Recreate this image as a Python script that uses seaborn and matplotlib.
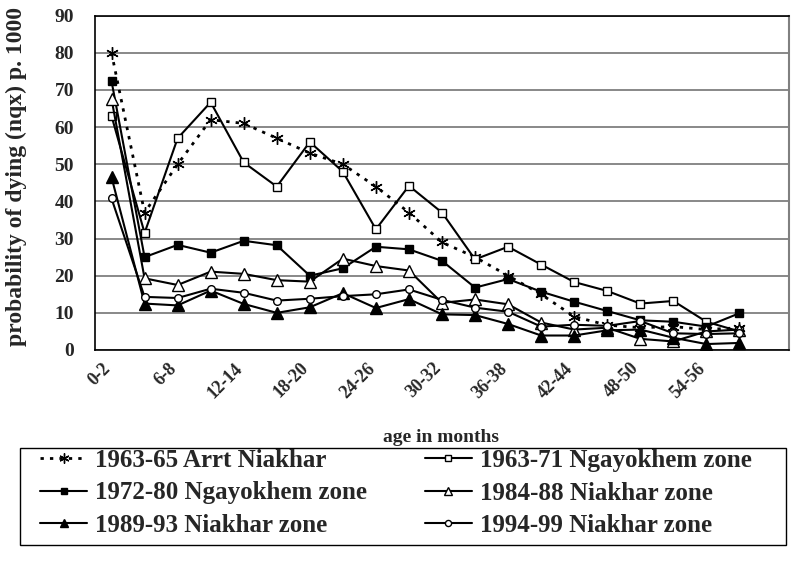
import numpy as np
import pandas as pd
import seaborn as sns
import matplotlib.pyplot as plt
from matplotlib.lines import Line2D
from matplotlib.patches import Rectangle

# age groups (3-month bands) and mortality series
ages = ["0-2", "3-5", "6-8", "9-11", "12-14", "15-17", "18-20", "21-23", "24-26", "27-29",
        "30-32", "33-35", "36-38", "39-41", "42-44", "45-47", "48-50", "51-53", "54-56", "57-59"]

arrt_6365 = [80, 37, 50, 62, 61, 57, 53, 50, 44, 37, 29, 25, 20, 15, 9, 6.7, 6, 6.3, 5.5, 6]
ngay_6371 = [63, 31.5, 57, 66.7, 50.5, 44, 56, 48, 32.5, 44.2, 37, 24.4, 27.8, 23, 18.3, 15.9, 12.5, 13.2, 7.6, 5]
ngay_7280 = [72.4, 25, 28.3, 26.2, 29.4, 28.2, 20, 22, 27.8, 27.1, 24, 16.8, 19.1, 15.7, 13, 10.5, 8, 7.6, 6.3, 9.9]
niak_8488 = [67.6, 19.3, 17.5, 21.1, 20.5, 18.8, 18.4, 24.6, 22.6, 21.4, 12.7, 13.6, 12.3, 7.4, 5.5, 6, 3, 2.3, 5, 5.5]
niak_8993 = [46.5, 12.5, 12, 16, 12.4, 10, 11.5, 15.3, 11.3, 13.7, 9.6, 9.4, 7, 3.9, 3.9, 5.3, 5.5, 3.3, 1.6, 1.9]
niak_9499 = [40.8, 14.3, 14, 16.5, 15.4, 13.3, 13.8, 14.5, 15, 16.3, 13.5, 11.4, 10.3, 6.3, 6.8, 6.5, 7.8, 4.5, 4.3, 4.5]

labels = ["1963-65 Arrt Niakhar", "1963-71 Ngayokhem zone", "1972-80 Ngayokhem zone",
          "1984-88 Niakhar zone", "1989-93 Niakhar zone", "1994-99 Niakhar zone"]
series = [arrt_6365, ngay_6371, ngay_7280, niak_8488, niak_8993, niak_9499]

sns.set_style("white")
plt.rcParams['font.family'] = ['Liberation Serif', 'DejaVu Serif']
plt.rcParams['font.weight'] = 'bold'

fig = plt.figure(figsize=(8.03, 5.67), dpi=100)
ax = fig.add_axes([95 / 803, 1 - 350 / 567, 694 / 803, (350 - 15.7) / 567])

pos = np.arange(len(ages))
styles = [
    dict(marker=(6, 2, 0), ms=9, mfc="black", ls=(0, (1.2, 2.2)), lw=2.0),
    dict(marker="s", ms=5.5, mfc="white", ls="-", lw=1.5),
    dict(marker="s", ms=5.5, mfc="black", ls="-", lw=1.5),
    dict(marker="^", ms=8, mfc="white", ls="-", lw=1.5),
    dict(marker="^", ms=8, mfc="black", ls="-", lw=1.5),
    dict(marker="o", ms=5.5, mfc="white", ls="-", lw=1.5),
]

handles = []
for lab, vals, st in zip(labels, series, styles):
    df = pd.DataFrame({"pos": pos, "q": vals})
    sns.lineplot(data=df, x="pos", y="q", ax=ax, color="black", linestyle=st["ls"],
                 linewidth=st["lw"], marker=st["marker"], markersize=st["ms"],
                 markerfacecolor=st["mfc"], markeredgecolor="black",
                 markeredgewidth=1.0, zorder=3)
    handles.append(Line2D([], [], color="black", linestyle=st["ls"], linewidth=st["lw"],
                          marker=st["marker"], markersize=st["ms"] * 0.8,
                          markerfacecolor=st["mfc"], markeredgecolor="black"))

ax.set_xlim(-0.5, len(ages) + 0.5)
ax.set_ylim(0, 90)
ax.set_yticks(range(0, 91, 10))
ax.yaxis.grid(True, color="#7f7f7f", linewidth=1.3)
ax.set_axisbelow(True)
ax.tick_params(axis="y", length=9, width=1, labelsize=14, pad=6)
ax.set_xticks(np.arange(-0.5, len(ages) + 0.51, 0.5))
ax.set_xticklabels([])
ax.tick_params(axis="x", length=5, width=1, direction="out")
for s in ax.spines.values():
    s.set_color("black")
    s.set_linewidth(1.2)
ax.spines["right"].set_color("#808080")
ax.spines["right"].set_linewidth(1.5)

# rotated category labels on every other band
for i in range(0, len(ages), 2):
    ax.annotate(ages[i], xy=(i, 0), xycoords=("data", "axes fraction"),
                xytext=(-7, -7), textcoords="offset points",
                rotation=45, ha="right", va="top", rotation_mode="anchor",
                fontsize=13, fontweight="bold")

ax.set_xlabel("")
ax.set_ylabel("probability of dying (nqx) p. 1000", fontsize=17, fontweight="bold", labelpad=10)
ax.yaxis.set_label_coords(-0.098, 0.52)
fig.text(0.5 + 40 / 803, 1 - 438 / 567, "age in months", ha="center", va="center",
         fontsize=14, fontweight="bold")

# legend entries ordered row by row as in the original (matplotlib fills columns)
order = [0, 2, 4, 1, 3, 5]
leg = fig.legend([handles[k] for k in order], [labels[k] for k in order],
                 loc="upper left", ncol=2, bbox_to_anchor=(40 / 803, 1 - 449 / 567),
                 frameon=False, fontsize=18, handlelength=1.9, handletextpad=0.3,
                 labelspacing=0.38, borderaxespad=0, borderpad=0, columnspacing=2.3)
for t in leg.get_texts():
    t.set_fontweight("bold")
fig.patches.append(Rectangle((20 / 803, 1 - 545 / 567), 766 / 803, 97 / 567,
                             transform=fig.transFigure, fill=False,
                             edgecolor="black", linewidth=1.0))

fig.savefig("out.png", dpi=100)
